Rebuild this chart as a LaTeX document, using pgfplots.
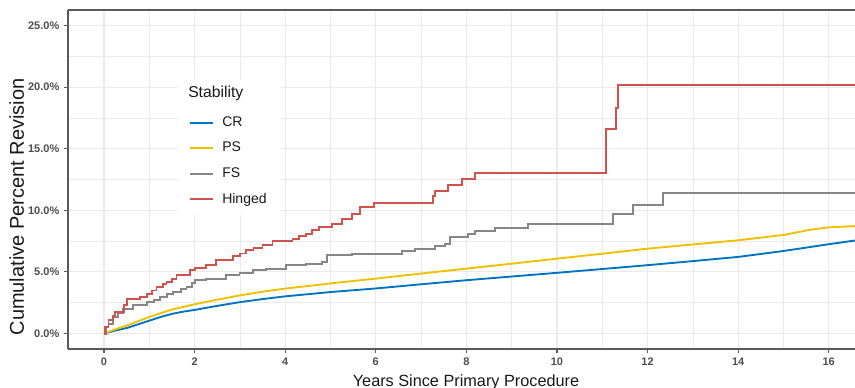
\documentclass[border=0pt]{standalone}
\usepackage{pgfplots}
\pgfplotsset{compat=1.18}
\usepackage{fontspec}
\setmainfont{Liberation Sans}
\definecolor{cr}{HTML}{0073C2}
\definecolor{ps}{HTML}{EFC000}
\definecolor{fs}{HTML}{868686}
\definecolor{hg}{HTML}{CD534C}
\definecolor{gridc}{HTML}{EBEBEB}
\definecolor{framec}{HTML}{5A5A5A}
\definecolor{tickc}{HTML}{4D4D4D}
\begin{document}
\begin{tikzpicture}
\useasboundingbox (-51pt,7.5pt) rectangle (590.25pt,-283.5pt);
\begin{axis}[
  at={(0pt,0pt)}, anchor=north west,
  scale only axis, width=590.25pt, height=254.25pt,
  xmin=-0.795, xmax=16.58, ymin=-1.25, ymax=26.25,
  axis x line*=bottom, axis y line*=left,
  axis line style={framec, line width=1.1pt, -},
  xtick={0,2,...,16}, xticklabels={0,2,4,6,8,10,12,14,16},
  ytick={0,5,...,25}, yticklabels={0.0\%,5.0\%,10.0\%,15.0\%,20.0\%,25.0\%},
  minor xtick={1,3,...,15}, minor ytick={2.5,7.5,...,22.5},
  grid=both,
  major grid style={gridc, line width=0.8pt},
  minor grid style={gridc, line width=0.5pt},
  tick align=outside, major tick length=3pt, minor tick length=0pt,
  tick style={framec, line width=0.8pt},
  ticklabel style={font=\fontsize{8.25}{9}\selectfont\bfseries, text=tickc},
  legend style={at={(0.1395,0.795)}, anchor=north west, draw=none, fill=white,
    font=\fontsize{10.5}{12}\selectfont, row sep=6.3pt, inner xsep=8pt, inner ysep=5pt,
    cells={anchor=west}, text=black!90,
    /tikz/every odd column/.append style={column sep=4.5pt}},
  legend image code/.code={\draw[#1] (0pt,0pt) -- (17.25pt,0pt);},
]
\draw[framec, line width=1.1pt] (rel axis cs:0,1) -- (rel axis cs:1,1);
\addlegendimage{empty legend}
\addlegendentry{\hspace{-25.5pt}\fontsize{11.8}{13}\selectfont\raisebox{2.25pt}[0pt][0pt]{Stability}\rule[-5pt]{0pt}{13.9pt}}
\addlegendimage{cr, line width=1.4pt}
\addlegendentry{CR}
\addlegendimage{ps, line width=1.4pt}
\addlegendentry{PS}
\addlegendimage{fs, line width=1.4pt}
\addlegendentry{FS}
\addlegendimage{hg, line width=1.4pt}
\addlegendentry{Hinged}

\addplot[cr, line width=1.4pt, forget plot] coordinates {
(0,0) (0.25,0.25) (0.5,0.45) (0.75,0.75) (1,1.05) (1.25,1.35) (1.5,1.6) (1.75,1.78)
(2,1.92) (2.5,2.25) (3,2.55) (3.5,2.8) (4,3.02) (5,3.37) (6,3.66) (7,4.0) (8,4.33)
(9,4.63) (10,4.93) (11,5.24) (12,5.55) (13,5.88) (14,6.22) (15,6.7) (16,7.25) (16.58,7.55)};

\addplot[ps, line width=1.4pt, forget plot] coordinates {
(0,0) (0.25,0.35) (0.5,0.65) (1,1.35) (1.5,1.95) (2,2.38) (2.5,2.75) (3,3.1) (3.5,3.4)
(4,3.65) (5,4.07) (6,4.46) (7,4.87) (8,5.27) (9,5.67) (10,6.08) (11,6.48) (12,6.89)
(13,7.23) (14,7.57) (15,8.0) (15.6,8.43) (16,8.62) (16.58,8.72)};

\addplot[fs, line width=1.4pt, const plot, forget plot] coordinates {
(0,0) (0.05,0.5) (0.1,0.81) (0.2,1.35) (0.3,1.7) (0.42,2.03) (0.64,2.3) (0.94,2.57)
(1.1,2.75) (1.23,2.97) (1.4,3.2) (1.52,3.38) (1.7,3.6) (1.82,3.78) (1.95,4.1) (2.0,4.32)
(2.25,4.46) (2.69,4.73) (2.99,4.92) (3.28,5.13) (3.57,5.27) (4.01,5.54) (4.45,5.68)
(4.82,5.81) (4.93,6.35) (5.48,6.49) (6.58,6.7) (6.87,6.89) (7.31,7.08) (7.53,7.3)
(7.64,7.84) (8.04,8.05) (8.19,8.32) (8.63,8.54) (9.36,8.92) (11.23,9.68) (11.67,10.4)
(12.34,11.43) (16.58,11.43)};

\addplot[hg, line width=1.4pt, const plot, forget plot] coordinates {
(0,0) (0.03,0.5) (0.1,1.08) (0.2,1.4) (0.25,1.75) (0.45,2.3) (0.5,2.84) (0.79,3.0)
(0.94,3.24) (1.05,3.5) (1.16,3.78) (1.3,4.0) (1.38,4.19) (1.5,4.45) (1.6,4.73)
(1.89,5.13) (2.0,5.35) (2.25,5.54) (2.47,5.94) (2.84,6.27) (3.0,6.5) (3.13,6.76)
(3.3,6.95) (3.5,7.16) (3.72,7.49) (4.16,7.7) (4.3,7.9) (4.45,8.11) (4.6,8.4)
(4.75,8.65) (5.04,8.92) (5.26,9.33) (5.48,9.73) (5.66,10.27) (5.96,10.59)
(7.27,11.13) (7.31,11.54) (7.59,12.03) (7.9,12.51) (8.19,13.06) (11.08,16.57)
(11.31,18.33) (11.34,20.19) (16.58,20.19)};
\end{axis}
\node[font=\fontsize{12.2}{14}\selectfont, anchor=base, text=black!90] at (298.5pt,-282.4pt) {Years Since Primary Procedure};
\node[font=\fontsize{15}{15}\selectfont, rotate=90, anchor=base, text=black!90] at (-33pt,-147.75pt) {Cumulative Percent Revision};
\end{tikzpicture}
\end{document}
